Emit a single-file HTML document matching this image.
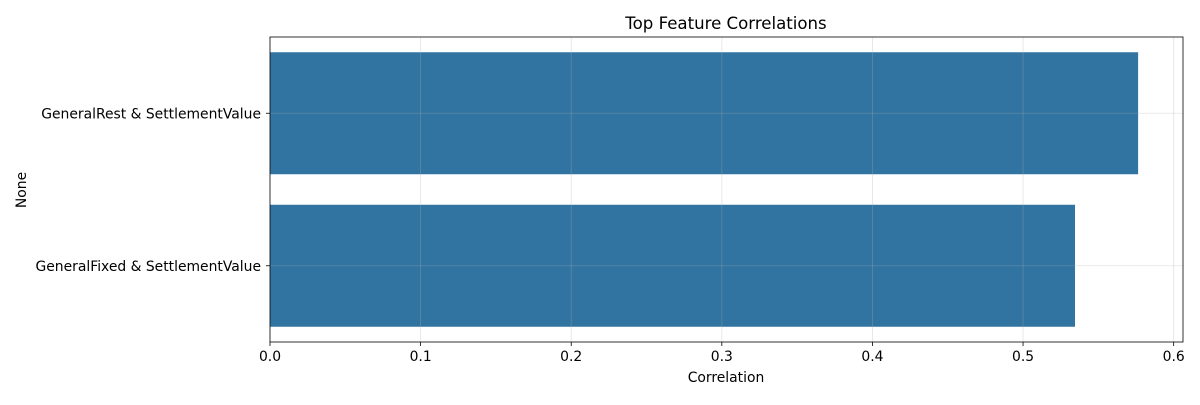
<!DOCTYPE html>
<html><head><meta charset="utf-8"><style>
body{margin:0;background:#fff;}
svg{font-family:"DejaVu Sans","Liberation Sans",sans-serif;}
</style></head><body>
<svg id="chart" width="1200" height="400" viewBox="0 0 1200 400" xmlns="http://www.w3.org/2000/svg">
<rect width="1200" height="400" fill="#fff"/>
<text x="726" y="29" text-anchor="middle" font-size="16.6">Top Feature Correlations</text>
<text x="726" y="382" text-anchor="middle" font-size="13.9">Correlation</text>
<text transform="translate(26,190) rotate(-90)" text-anchor="middle" font-size="13.9">None</text>
<g id="bars"></g><g id="grid"></g><g id="axes"></g>
</svg>
<script>
const categories = ["GeneralRest & SettlementValue", "GeneralFixed & SettlementValue"];
const values = [0.5764, 0.5345];
const xTicks = [0, 0.1, 0.2, 0.3, 0.4, 0.5, 0.6];
const xTickLabels = ["0.0", "0.1", "0.2", "0.3", "0.4", "0.5", "0.6"];

const L=270,R=1183,T=37,B=342,xMax=0.6062;
const NS="http://www.w3.org/2000/svg";
const x=v=>L+(v/xMax)*(R-L);
const band=(B-T)/categories.length;
const y=i=>T+band*(i+0.5);
function mk(tag,attrs,parent){const e=document.createElementNS(NS,tag);for(const k in attrs)e.setAttribute(k,attrs[k]);parent.appendChild(e);return e;}
const gb=document.getElementById('bars'),gg=document.getElementById('grid'),ga=document.getElementById('axes');
categories.forEach((c,i)=>{
  const h=band*0.8;
  const r=mk('rect',{x:L,y:y(i)-h/2,width:x(values[i])-L,height:h,fill:'#3274a1'},gb);
  
  
  const l=mk('line',{x1:L,x2:R,y1:y(i),y2:y(i),stroke:'#b0b0b0','stroke-opacity':0.35,'stroke-width':0.8},gg);
  
  
  mk('line',{x1:L-4,x2:L,y1:y(i),y2:y(i),stroke:'#000','stroke-width':0.8},ga);
  const t=mk('text',{x:L-9,y:y(i)+5,'text-anchor':'end','font-size':13.9},ga);
  t.textContent=c;
  
  
});
xTicks.forEach((v,i)=>{
  const l=mk('line',{x1:x(v),x2:x(v),y1:T,y2:B,stroke:'#b0b0b0','stroke-opacity':0.35,'stroke-width':0.8},gg);
  
  
  mk('line',{x1:x(v),x2:x(v),y1:B,y2:B+4,stroke:'#000','stroke-width':0.8},ga);
  const t=mk('text',{x:x(v),y:B+19,'text-anchor':'middle','font-size':13.9},ga);
  t.textContent=xTickLabels[i];
  
  
});
const f=mk('rect',{x:L,y:T,width:R-L,height:B-T,fill:'none',stroke:'#000','stroke-width':0.8},ga);


</script>
</body></html>
